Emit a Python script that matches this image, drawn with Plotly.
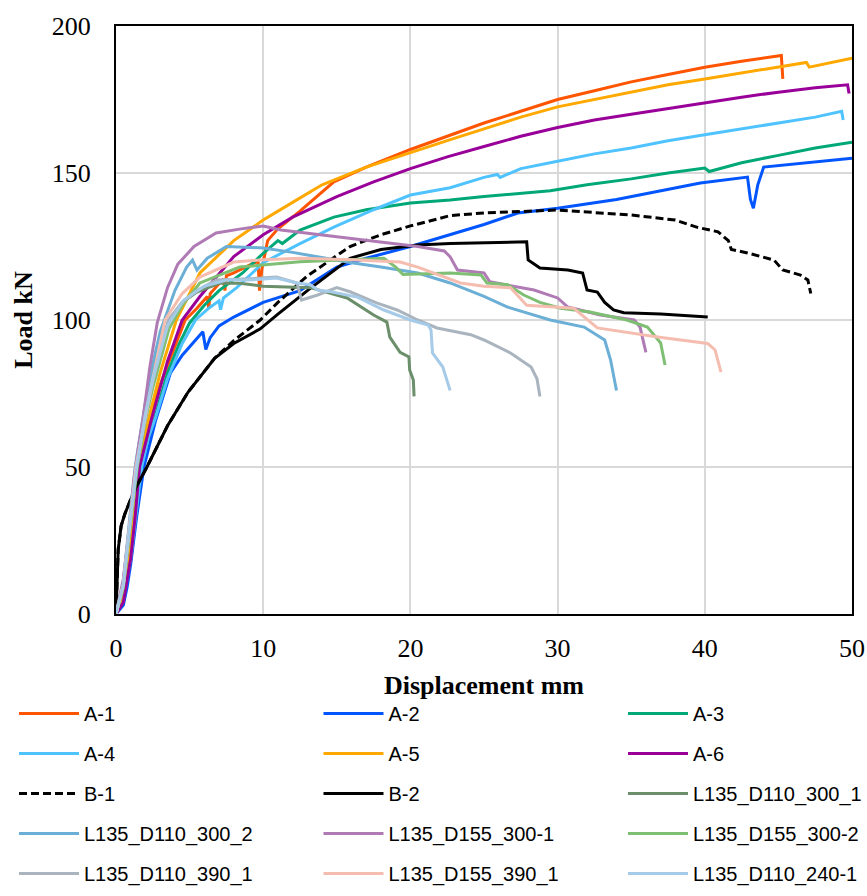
import plotly.graph_objects as go

# ---------------- data ----------------
x_A1 = [0, 0.5, 1, 1.4, 1.7, 2.1, 2.5, 3, 4, 4.7, 5.5, 6.2, 6.3, 6.4, 7.3, 7.4, 7.5, 8, 9, 9.65, 9.75, 9.9, 10.3, 11, 12.5, 14.8, 17, 20, 22.5, 25, 27.5, 30, 32.5, 35, 37.5, 40, 42.5, 45.2, 45.3]
y_A1 = [0, 5, 18, 35, 50, 62, 70, 78, 91, 100, 104, 108, 104, 109, 114, 110, 115, 116, 118.5, 120, 110, 117, 127, 131, 137, 147, 152, 158, 162.5, 167, 171, 175, 178, 181, 183.5, 186, 188, 190, 182]

x_A2 = [0, 0.5, 0.75, 1, 1.4, 1.9, 2.7, 3.7, 4.5, 5.2, 5.9, 6.1, 6.4, 7, 8, 10, 12.5, 15, 17, 20, 22.7, 25, 27.3, 30, 34, 37, 39.7, 42.9, 43.1, 43.3, 43.6, 44, 46, 50]
y_A2 = [0, 3, 9, 17, 33, 50, 66, 82, 88, 92, 96, 90, 94, 98, 101, 106, 110, 118, 121, 125, 129, 132.5, 136.4, 138, 141, 144, 146.6, 148.6, 141, 138, 146, 152, 153, 155]

x_A3 = [0, 0.5, 1, 1.35, 1.7, 2.2, 2.65, 3.5, 4.3, 5, 6, 7, 8.6, 10, 11, 11.3, 12.5, 14.8, 17, 20, 22.7, 25, 27.5, 29.5, 32, 35, 37.5, 40, 40.3, 42.5, 45, 47.5, 50]
y_A3 = [0, 5, 20, 35, 50, 60, 67, 82, 92, 99, 105, 110, 116, 122.7, 127, 126, 130.6, 135, 137.5, 139.8, 140.8, 142, 143, 144, 146, 148, 150, 151.7, 150.5, 153.5, 156, 158.5, 160.5]

x_A4 = [0, 0.5, 1, 1.4, 1.75, 2.2, 2.7, 3.5, 4.5, 5.4, 6.3, 7, 7.1, 7.3, 8.2, 10, 12.5, 14.8, 17.5, 20, 22.7, 25, 25.9, 26.1, 27.5, 30, 32.5, 35, 37.5, 40, 42.5, 45, 47.5, 49.3, 49.4]
y_A4 = [0, 5, 19, 35, 50, 60, 67, 80, 92, 100, 104, 106.5, 103.5, 107.5, 111, 119.5, 126, 131.6, 137.5, 142.5, 145, 148.5, 149.5, 148.5, 151.5, 154, 156.5, 158.5, 161, 163, 165, 167, 169, 171, 168]

x_A5 = [0, 0.5, 1, 1.5, 2.2, 3, 4.1, 5, 5.7, 8, 10, 12, 14, 17, 20, 22.5, 25, 27.5, 30, 32.5, 35, 37.5, 40, 42.5, 45, 46.9, 47.1, 48.5, 50]
y_A5 = [0, 6, 25, 50, 66, 82, 100, 109, 116, 127, 134, 140, 146, 152, 157, 161, 165, 169, 172.5, 175, 177.5, 180, 182, 184, 186, 187.6, 186, 187.5, 189]

x_A6 = [0, 0.5, 1, 1.3, 1.6, 2.4, 3.5, 4.5, 5.7, 8, 10, 12, 15, 17.5, 20, 22.5, 25, 27.5, 30, 32.5, 35, 37.5, 40, 42.5, 45, 47.5, 49.7, 49.8]
y_A6 = [0, 4, 19, 33, 50, 66, 86, 100, 108, 121.6, 129, 135, 142, 147, 151.5, 155.5, 159, 162.5, 165.5, 168, 170, 172, 174, 175.8, 177.5, 179, 180, 177]

x_B1 = [0, 0.05, 0.15, 0.35, 0.6, 1, 1.4, 2.1, 3.5, 4.9, 6.7, 8, 9.8, 11, 13, 15.9, 18, 20, 22.7, 25, 30, 35, 38, 39.5, 40.9, 41.6, 41.8, 42.9, 44.7, 45.3, 46.5, 47, 47.2]
y_B1 = [0, 10, 22, 30, 34, 39, 43.5, 50, 64, 75.5, 87, 93, 100, 106, 115, 125, 129, 132, 135.5, 136.4, 137.4, 135.7, 134, 131.5, 130, 127, 124, 122.8, 120.4, 117, 115.3, 113.6, 109]

x_B2 = [0, 0.05, 0.15, 0.35, 0.6, 1, 1.4, 2.1, 3.5, 4.9, 6.7, 8, 9.8, 11, 13, 15.9, 18, 20.5, 22.7, 27.9, 28, 28.8, 30.7, 31.7, 32, 32.7, 33.2, 33.8, 34.5, 37, 40.2]
y_B2 = [0, 10, 22, 30, 34, 39, 43.5, 50, 64, 75.5, 87, 92, 97, 102, 110, 121, 124, 125.5, 126, 126.6, 120.4, 117.7, 117, 116, 110.2, 109.5, 106, 103.4, 102.5, 102, 101]

x_L1 = [0, 0.5, 1, 1.4, 2, 2.5, 3, 3.6, 4.5, 5.5, 7, 8.4, 10, 13.2, 15.7, 17.5, 18.4, 18.6, 19.3, 19.9, 19.95, 20.2, 20.25]
y_L1 = [0, 9, 33, 50, 70, 82, 91, 100, 106, 109.5, 112.5, 112.5, 111.5, 111, 107.5, 101.7, 99.3, 94.2, 89, 87.4, 83, 79.6, 74]

x_L2 = [0, 0.5, 1, 1.3, 2, 2.5, 3, 3.3, 4, 4.8, 5.2, 5.5, 6.2, 7.5, 10, 12, 14.8, 16, 18, 20.5, 22.7, 25, 26.6, 29.5, 31.8, 33.2, 33.6, 34]
y_L2 = [0, 11, 36, 50, 72, 85, 96, 100, 110, 118, 120.4, 117, 121, 125, 124.5, 123, 120.4, 119.5, 118, 116, 112.6, 108, 104.4, 100, 97.6, 93.2, 86.4, 76]

x_L3 = [0, 0.5, 1, 1.2, 1.5, 1.85, 2.3, 2.8, 3.5, 4.2, 5.3, 6.8, 8.5, 10, 11.2, 13, 15.2, 18, 20.5, 22.3, 22.7, 23.2, 25, 25.4, 28.4, 30, 30.7, 32.9, 35.2, 35.6, 36]
y_L3 = [0, 12, 33, 45, 56, 67, 84, 99, 111, 119, 125, 129.6, 131, 132, 130.6, 129.5, 128, 126.5, 125, 123.5, 121.5, 117, 116, 113, 110.2, 107.5, 104.4, 101.7, 100, 97.6, 89]

x_L4 = [0, 0.5, 1, 1.45, 2, 2.5, 3.6, 4.5, 5.7, 8.4, 12.5, 18.2, 19, 19.5, 22.7, 24.8, 25.2, 26.6, 27.7, 28.8, 30.2, 32.2, 34.7, 36.1, 37, 37.3]
y_L4 = [0, 9, 31, 50, 66, 77, 97, 105, 112.6, 118, 119.8, 121, 118, 115.5, 116, 115.3, 112.6, 112, 108.5, 106, 104, 102.7, 100, 97.6, 92.2, 84.7]

x_L5 = [0, 0.5, 1, 1.4, 2, 2.5, 3.56, 4.5, 5.5, 6.8, 9.1, 10.9, 12.3, 12.6, 13.7, 15, 15.9, 17.7, 19.1, 20.5, 21.8, 24.1, 25, 26.8, 28.2, 28.6, 28.8]
y_L5 = [0, 10, 33, 50, 68, 79, 100, 106, 110, 113.6, 114, 114.6, 112.6, 106.8, 108.5, 111, 109.6, 105.8, 103.4, 100, 97.3, 95, 93.2, 88.8, 84, 80, 74]

x_L6 = [0, 0.5, 1, 1.35, 2, 2.5, 3.33, 4.5, 5.7, 8, 10, 12.5, 16, 19.3, 20.5, 22.7, 23.4, 25, 26.8, 27.9, 31.1, 32.7, 36.8, 40.2, 40.7, 41.1]
y_L6 = [0, 10, 34, 50, 67, 80, 100, 109, 114.6, 119.7, 120.5, 121, 120.5, 119.7, 118, 114, 112.6, 111.5, 111, 105, 104, 97.3, 94.2, 92, 89.8, 82.3]

x_L7 = [0, 0.5, 1, 1.4, 2, 2.5, 3.5, 4.6, 6, 7.5, 9.1, 10.9, 12.3, 13.2, 13.7, 14.6, 16.4, 18.2, 20, 21.2, 21.4, 21.5, 22.2, 22.7]
y_L7 = [0, 10, 33, 50, 68, 80, 98, 106.8, 111.5, 113.6, 113.6, 114.3, 112.6, 112, 110.2, 109.6, 107.8, 103.4, 100, 98.3, 96.6, 88.8, 84, 76]

series_names = ["A-1", "A-2", "A-3", "A-4", "A-5", "A-6", "B-1", "B-2",
                "L135_D110_300_1", "L135_D110_300_2", "L135_D155_300-1", "L135_D155_300-2",
                "L135_D110_390_1", "L135_D155_390_1", "L135_D110_240-1"]
series_x = [x_A1, x_A2, x_A3, x_A4, x_A5, x_A6, x_B1, x_B2, x_L1, x_L2, x_L3, x_L4, x_L5, x_L6, x_L7]
series_y = [y_A1, y_A2, y_A3, y_A4, y_A5, y_A6, y_B1, y_B2, y_L1, y_L2, y_L3, y_L4, y_L5, y_L6, y_L7]
series_colors = ["#FF5500", "#0055FF", "#00A878", "#4FC3FF", "#FFA800", "#990099", "#000000", "#000000",
                 "#6A8F6A", "#6BAED6", "#B07BB5", "#7FBF73", "#A9B4BE", "#F5BDAF", "#A6CBE8"]
series_dash = ["solid"] * 6 + ["8px,4px", "solid"] + ["solid"] * 7

x_ticks = [0, 10, 20, 30, 40, 50]
y_ticks = [0, 50, 100, 150, 200]

# ---------------- figure ----------------
W, H = 867, 896
ML, MR, MT, MB = 116, 15, 26, 282
plot_h = H - MT - MB
plot_w = W - ML - MR

fig = go.Figure()
for i, (nm, xs, ys, c, d) in enumerate(zip(series_names, series_x, series_y, series_colors, series_dash)):
    col = i % 3
    fig.add_trace(go.Scatter(
        x=xs, y=ys, mode="lines", name=nm, legendgroup=nm,
        line=dict(color=c, width=3, dash=d),
        legend="legend" if col == 0 else f"legend{col + 1}",
    ))

serif = "Liberation Serif, Times New Roman, serif"
narrow = "Liberation Sans Narrow, Arial Narrow, Liberation Sans, Arial, sans-serif"

axis_common = dict(
    showgrid=True, gridcolor="#D9D9D9", gridwidth=1.5,
    showline=True, linecolor="#000000", linewidth=2, mirror=True,
    zeroline=False, ticks="", tickfont=dict(family=serif, size=26, color="#000000"),
)

fig.update_layout(
    width=W, height=H,
    margin=dict(l=ML, r=MR, t=MT, b=MB, autoexpand=False),
    plot_bgcolor="white", paper_bgcolor="white",
    xaxis=dict(range=[0, 50], tickvals=x_ticks, ticklabelstandoff=10,
               title=dict(text="<b>Displacement mm</b>", font=dict(family=serif, size=26, color="#000000"), standoff=14),
               **axis_common),
    yaxis=dict(range=[0, 200], tickvals=y_ticks, ticklabelstandoff=18,
               title=dict(text="<b>Load kN</b>", font=dict(family=serif, size=26, color="#000000"), standoff=12),
               **axis_common),
    showlegend=True,
)

col_x_px = [14, 318.5, 623]
first_row_px = 713
for c, xpx in enumerate(col_x_px):
    key = "legend" if c == 0 else f"legend{c + 1}"
    fig.update_layout(**{key: dict(
        orientation="v", x=(xpx - ML) / plot_w, xanchor="left",
        y=(MT + plot_h - (first_row_px - 19)) / plot_h, yanchor="top",
        itemwidth=60, tracegroupgap=11,
        font=dict(family=narrow, size=20, color="#000000"),
        bgcolor="rgba(0,0,0,0)", borderwidth=0,
    )})

fig.write_html("out.html")
